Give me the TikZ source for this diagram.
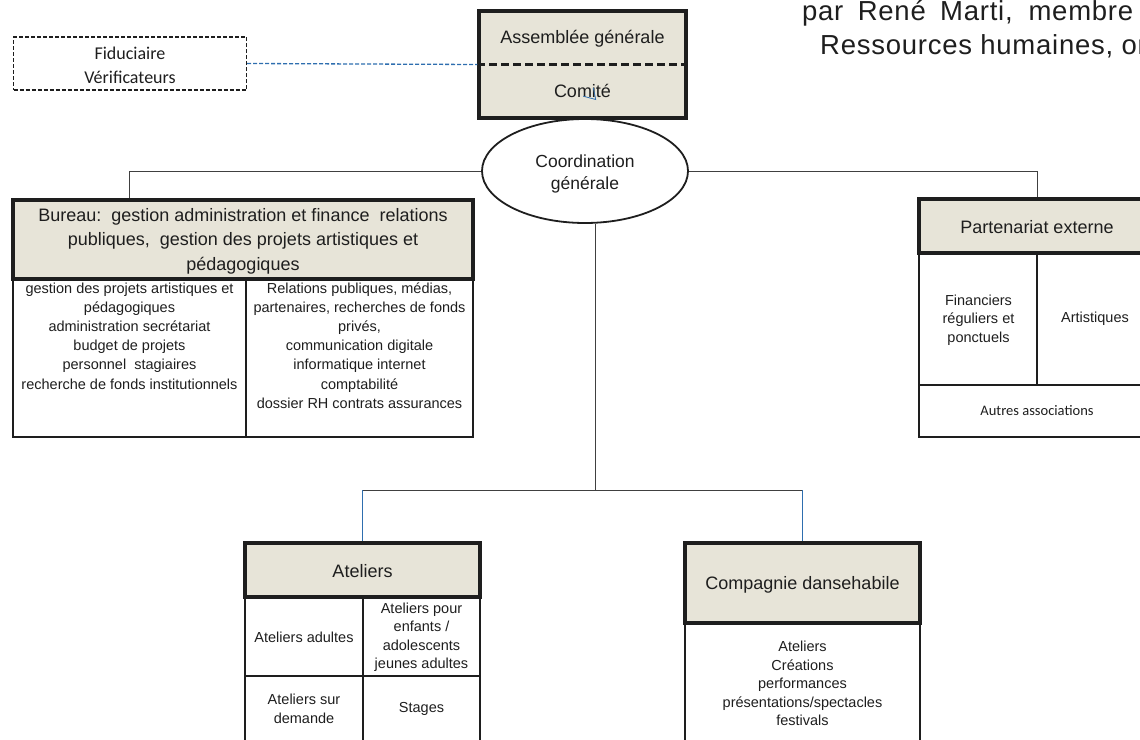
\documentclass[tikz,border=0pt]{standalone}
\usepackage{fontspec}
\setmainfont{Liberation Sans}
\newfontfamily\calib{Carlito}
\newfontfamily\spaced[LetterSpace=2.7]{Liberation Sans}
\usetikzlibrary{shapes.geometric}
\definecolor{beige}{RGB}{231,228,216}
\definecolor{lineblue}{RGB}{46,110,175}
\definecolor{ink}{RGB}{30,30,30}
\begin{document}
\begin{tikzpicture}[x=1pt,y=-1pt,
  hdr/.style={draw=ink,line width=3.3pt,fill=beige,inner sep=0pt},
  bodybox/.style={draw=ink,line width=2pt,inner sep=0pt},
  htxt/.style={align=center,inner sep=0pt,text=ink,font=\fontsize{18}{24.5}\selectfont},
  txt/.style={align=center,inner sep=0pt,text=ink,font=\fontsize{14.5}{19.2}\selectfont},
  ctxt/.style={align=center,inner sep=0pt,text=ink,font=\calib\fontsize{14.5}{18}\selectfont},
  conn/.style={draw=ink!85,line width=1pt},
  bconn/.style={draw=lineblue,line width=1pt}]
\useasboundingbox (0,0) rectangle (1140,739);
\clip (0,0) rectangle (1140,739);

% top right text
\node[anchor=base west,inner sep=0pt,text=ink,font=\spaced\fontsize{27.5}{27.5}\selectfont] (t1) at (802,20.5) {\makebox[331pt][s]{par René Marti, membre}};
\node[anchor=base west,inner sep=0pt,text=ink,font=\spaced\fontsize{27.5}{27.5}\selectfont] (t2) at (820,54) {Ressources humaines, or};

% Fiduciaire
\node[draw=ink,line width=1.4pt,dash pattern=on 4pt off 2pt,minimum width=233pt,minimum height=53pt,inner sep=0pt] (fid) at (130,63.5) {};
\node[align=center,inner sep=0pt,text=ink,font=\calib\fontsize{18}{24}\selectfont] (fidt) at (130,65.5) {Fiduciaire\\Vérificateurs};

% Assemblee / Comite
\node[hdr,minimum width=207pt,minimum height=107pt] (ag) at (582.5,64.5) {};
\draw[ink,line width=3pt,dash pattern=on 8pt off 4pt] (ag.west) -- (ag.east);
\node[htxt] (agt) at (582.5,38.5) {Assemblée générale};
\node[htxt] (com) at (582.5,91) {Comité};
\draw[lineblue,line width=0.8pt] ([xshift=0.8pt,yshift=-5.2pt]com.center) -- ([xshift=13.2pt,yshift=-8.5pt]com.center) -- ([xshift=10.8pt,yshift=3.2pt]com.center);
\draw[bconn,line width=1.3pt,dash pattern=on 4pt off 2pt] (fid.east) -- (ag.west);

% Coordination
\node[ellipse,draw=ink,line width=1.8pt,minimum width=206pt,minimum height=104pt,inner sep=0pt] (co) at (585,171) {};
\node[align=center,inner sep=0pt,text=ink,font=\fontsize{17.5}{22}\selectfont] (cot) at (585,174) {Coordination\\générale};

% Bureau
\node[bodybox,minimum width=460pt,minimum height=158pt] (bb) at (243,358) {};
\draw[ink,line width=2pt] ([xshift=3pt]bb.north) -- ([xshift=3pt]bb.south);
\node[hdr,minimum width=460pt,minimum height=79pt] (bh) at (243,239.5) {};
\node[htxt] (bht) at (243,241) {Bureau:\ \ gestion administration et finance\ \ relations\\publiques,\ \ gestion des projets artistiques et\\pédagogiques};
\node[txt] (bl) at (129.5,336) {gestion des projets artistiques et\\pédagogiques\\administration secrétariat\\budget de projets\\personnel\ \ stagiaires\\recherche de fonds institutionnels};
\node[txt] (br) at (359.5,345.5) {Relations publiques, médias,\\partenaires, recherches de fonds\\privés,\\communication digitale\\informatique internet\\comptabilité\\dossier RH contrats assurances};

% Partenariat externe
\node[bodybox,minimum width=236pt,minimum height=184pt] (pb) at (1037,345) {};
\draw[ink,line width=2pt] (pb.north) -- ([yshift=53pt]pb.south);
\draw[ink,line width=2pt] ([yshift=53pt]pb.south west) -- ([yshift=53pt]pb.south east);
\node[hdr,minimum width=236pt,minimum height=54pt] (ph) at (1037,226) {};
\node[htxt] (pht) at (1037,227) {Partenariat externe};
\node[txt,font=\fontsize{14.5}{18.5}\selectfont] (fin) at (978.5,320) {Financiers\\réguliers et\\ponctuels};
\node[txt] (art) at (1095,319) {Artistiques};
\node[ctxt] (aut) at (1037,411) {Autres associations};

% Ateliers
\node[bodybox,minimum width=235pt,minimum height=163pt] (ab) at (362.5,678.5) {};
\draw[ink,line width=2pt] (ab.north) -- (ab.south);
\draw[ink,line width=2pt] ([yshift=-80pt]ab.north west) -- ([yshift=-80pt]ab.north east);
\node[hdr,minimum width=235pt,minimum height=54pt] (ah) at (362.5,570) {};
\node[htxt] (aht) at (362.5,571) {Ateliers};
\node[txt] (a1) at (304,637) {Ateliers adultes};
\node[txt,font=\fontsize{14.5}{18.5}\selectfont] (a2) at (421.5,637) {Ateliers pour\\enfants /\\adolescents\\jeunes adultes};
\node[txt] (a3) at (304,709) {Ateliers sur\\demande};
\node[txt] (a4) at (421.5,709) {Stages};

% Compagnie
\node[bodybox,minimum width=235pt,minimum height=137pt] (cb) at (802.5,691.5) {};
\node[hdr,minimum width=235pt,minimum height=80pt] (ch) at (802.5,583) {};
\node[htxt] (cht) at (802.5,585) {Compagnie dansehabile};
\node[txt,font=\fontsize{14.5}{18.4}\selectfont] (cbt) at (802.5,683.5) {Ateliers\\Créations\\performances\\présentations/spectacles\\festivals};

% connectors
\coordinate (bus) at (595,490);
\draw[conn] (co.west) -| ([xshift=-114pt]bh.north);
\draw[conn] (co.east) -| (ph.north);
\draw[conn] ([xshift=10pt]co.south) -- (bus);
\draw[conn] (ah.north |- bus) -- (ch.north |- bus);
\draw[bconn] (ah.north |- bus) -- (ah.north);
\draw[bconn] (ch.north |- bus) -- (ch.north);
\end{tikzpicture}
\end{document}
